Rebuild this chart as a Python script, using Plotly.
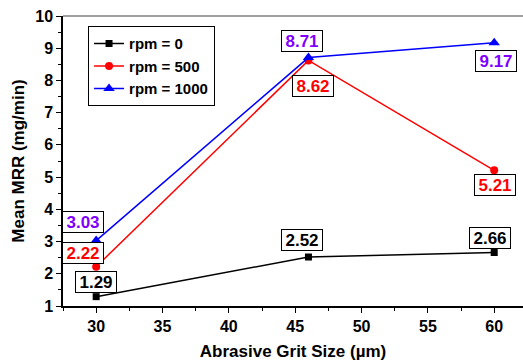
import plotly.graph_objects as go

grit = [30, 46, 60]
rpm0 = [1.29, 2.52, 2.66]
rpm500 = [2.22, 8.62, 5.21]
rpm1000 = [3.03, 8.71, 9.17]
names = ["rpm = 0", "rpm = 500", "rpm = 1000"]
x_ticks = [30, 35, 40, 45, 50, 55, 60]
y_ticks = [1, 2, 3, 4, 5, 6, 7, 8, 9, 10]

FONT = "Liberation Sans, Arial, sans-serif"

fig = go.Figure()
series = [
    (rpm0, names[0], "black", "square", 7),
    (rpm500, names[1], "red", "circle", 8),
    (rpm1000, names[2], "blue", "triangle-up", 10),
]
for vals, nm, col, sym, sz in series:
    fig.add_trace(go.Scatter(
        x=grit, y=vals, name=nm, mode="lines+markers",
        line=dict(color=col, width=1.5),
        marker=dict(color=col, symbol=sym, size=sz),
    ))

label_colors = ["black", "red", "#8000FF"]
shifts = [
    [(0, 15), (-6, 17), (-4, 15)],
    [(-13, 14), (5, -26), (1, -15)],
    [(-13, 19), (-6, 17), (2, -18)],
]
for si, vals in enumerate([rpm0, rpm500, rpm1000]):
    for pi, v in enumerate(vals):
        dx, dy = shifts[si][pi]
        fig.add_annotation(
            x=grit[pi], y=v, text=f"{v:.2f}", showarrow=False,
            xshift=dx, yshift=dy,
            font=dict(family=FONT, size=17, color=label_colors[si], weight="bold"),
            bgcolor="white", bordercolor="black", borderwidth=1,
            borderpad=0, width=40, height=20,
        )

fig.add_shape(type="line", xref="paper", yref="paper", x0=0, x1=1, y0=1, y1=1,
              line=dict(color="#808080", width=1.5))

fig.update_layout(
    width=523, height=361,
    margin=dict(l=63, r=0, t=16, b=55),
    paper_bgcolor="white", plot_bgcolor="white",
    font=dict(family=FONT, color="black", weight="bold"),
    showlegend=True,
    legend=dict(
        x=0.054, y=0.965, xanchor="left", yanchor="top",
        bordercolor="black", borderwidth=1.2, bgcolor="white",
        font=dict(family=FONT, size=15, color="black", weight="bold"),
        tracegroupgap=0, itemwidth=30,
    ),
    xaxis=dict(
        range=[27.5, 62.17], tickvals=x_ticks,
        ticks="outside", ticklen=5, tickwidth=1, tickcolor="black",
        minor=dict(dtick=2.5, tick0=27.5, ticks="outside", ticklen=3, tickcolor="black", showgrid=False),
        showline=True, linecolor="black", linewidth=1.5,
        showgrid=False, zeroline=False,
        tickfont=dict(family=FONT, size=16, color="black", weight="bold"),
        title=dict(text="Abrasive Grit Size (\u00b5m)", standoff=12,
                   font=dict(family=FONT, size=17, color="black", weight="bold")),
    ),
    yaxis=dict(
        range=[1, 10], tickvals=y_ticks,
        ticks="outside", ticklen=5, tickwidth=1, tickcolor="black",
        minor=dict(dtick=0.5, tick0=1, ticks="outside", ticklen=3, tickcolor="black", showgrid=False),
        showline=True, linecolor="black", linewidth=1.5,
        showgrid=False, zeroline=False,
        tickfont=dict(family=FONT, size=16, color="black", weight="bold"),
        title=dict(text="Mean MRR (mg/min)", standoff=6,
                   font=dict(family=FONT, size=17, color="black", weight="bold")),
    ),
)

fig.write_html("out.html")
